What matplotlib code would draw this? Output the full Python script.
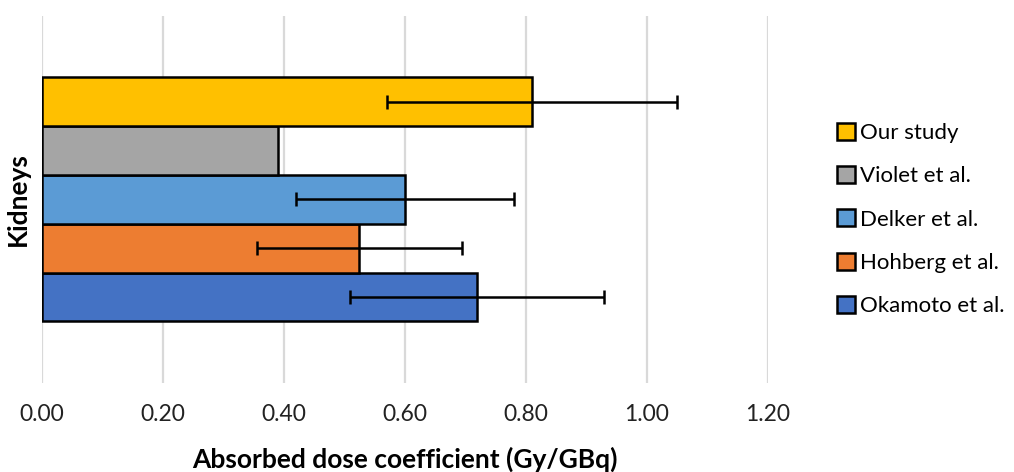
import matplotlib.pyplot as plt
import numpy as np

plt.rcParams['font.family'] = ['Lato', 'DejaVu Sans']

studies = ["Okamoto et al.", "Hohberg et al.", "Delker et al.", "Violet et al.", "Our study"]
values = [0.72, 0.525, 0.60, 0.39, 0.81]
errors = [0.21, 0.17, 0.18, None, 0.24]
colors = ["#4472C4", "#ED7D31", "#5B9BD5", "#A5A5A5", "#FFC000"]
organ = "Kidneys"
xticks = [0.0, 0.2, 0.4, 0.6, 0.8, 1.0, 1.2]

fig = plt.figure(figsize=(10.14, 4.72), dpi=100)
ax = fig.add_axes([0.0414, 0.1886, 0.7156, 0.7775])

pos = np.arange(len(studies))
handles = []
for i in range(len(studies)):
    b = ax.barh(pos[i], values[i], height=1.0, color=colors[i], edgecolor="black",
                linewidth=1.8, label=studies[i], zorder=3)
    handles.append(b)
    if errors[i] is not None:
        ax.errorbar(values[i], pos[i], xerr=errors[i], fmt="none", ecolor="black",
                    elinewidth=1.8, capsize=5, capthick=1.8, zorder=4)

ax.set_xlim(0, 1.2)
ax.set_ylim(2 - 3.76, 2 + 3.76)
ax.set_xticks(xticks)
ax.set_xticklabels([f"{t:.2f}" for t in xticks], fontsize=16.5, color="#222222")
ax.tick_params(axis="x", length=0, pad=15)
ax.set_yticks([2])
ax.set_yticklabels([organ], rotation=90, va="center", fontsize=19, fontweight="bold")
ax.tick_params(axis="y", length=0, pad=9)
ax.grid(axis="x", color="#D9D9D9", linewidth=1.6, zorder=0)
for s in ax.spines.values():
    s.set_visible(False)

ax.set_xlabel("Absorbed dose coefficient (Gy/GBq)", fontsize=19, fontweight="bold", labelpad=16)

leg = fig.legend(handles[::-1], studies[::-1], loc="center left", bbox_to_anchor=(0.806, 0.535),
                 frameon=False, fontsize=16, handlelength=0.8, handleheight=0.8,
                 handletextpad=0.2, labelspacing=1.04)

fig.savefig("out.png", dpi=100)
